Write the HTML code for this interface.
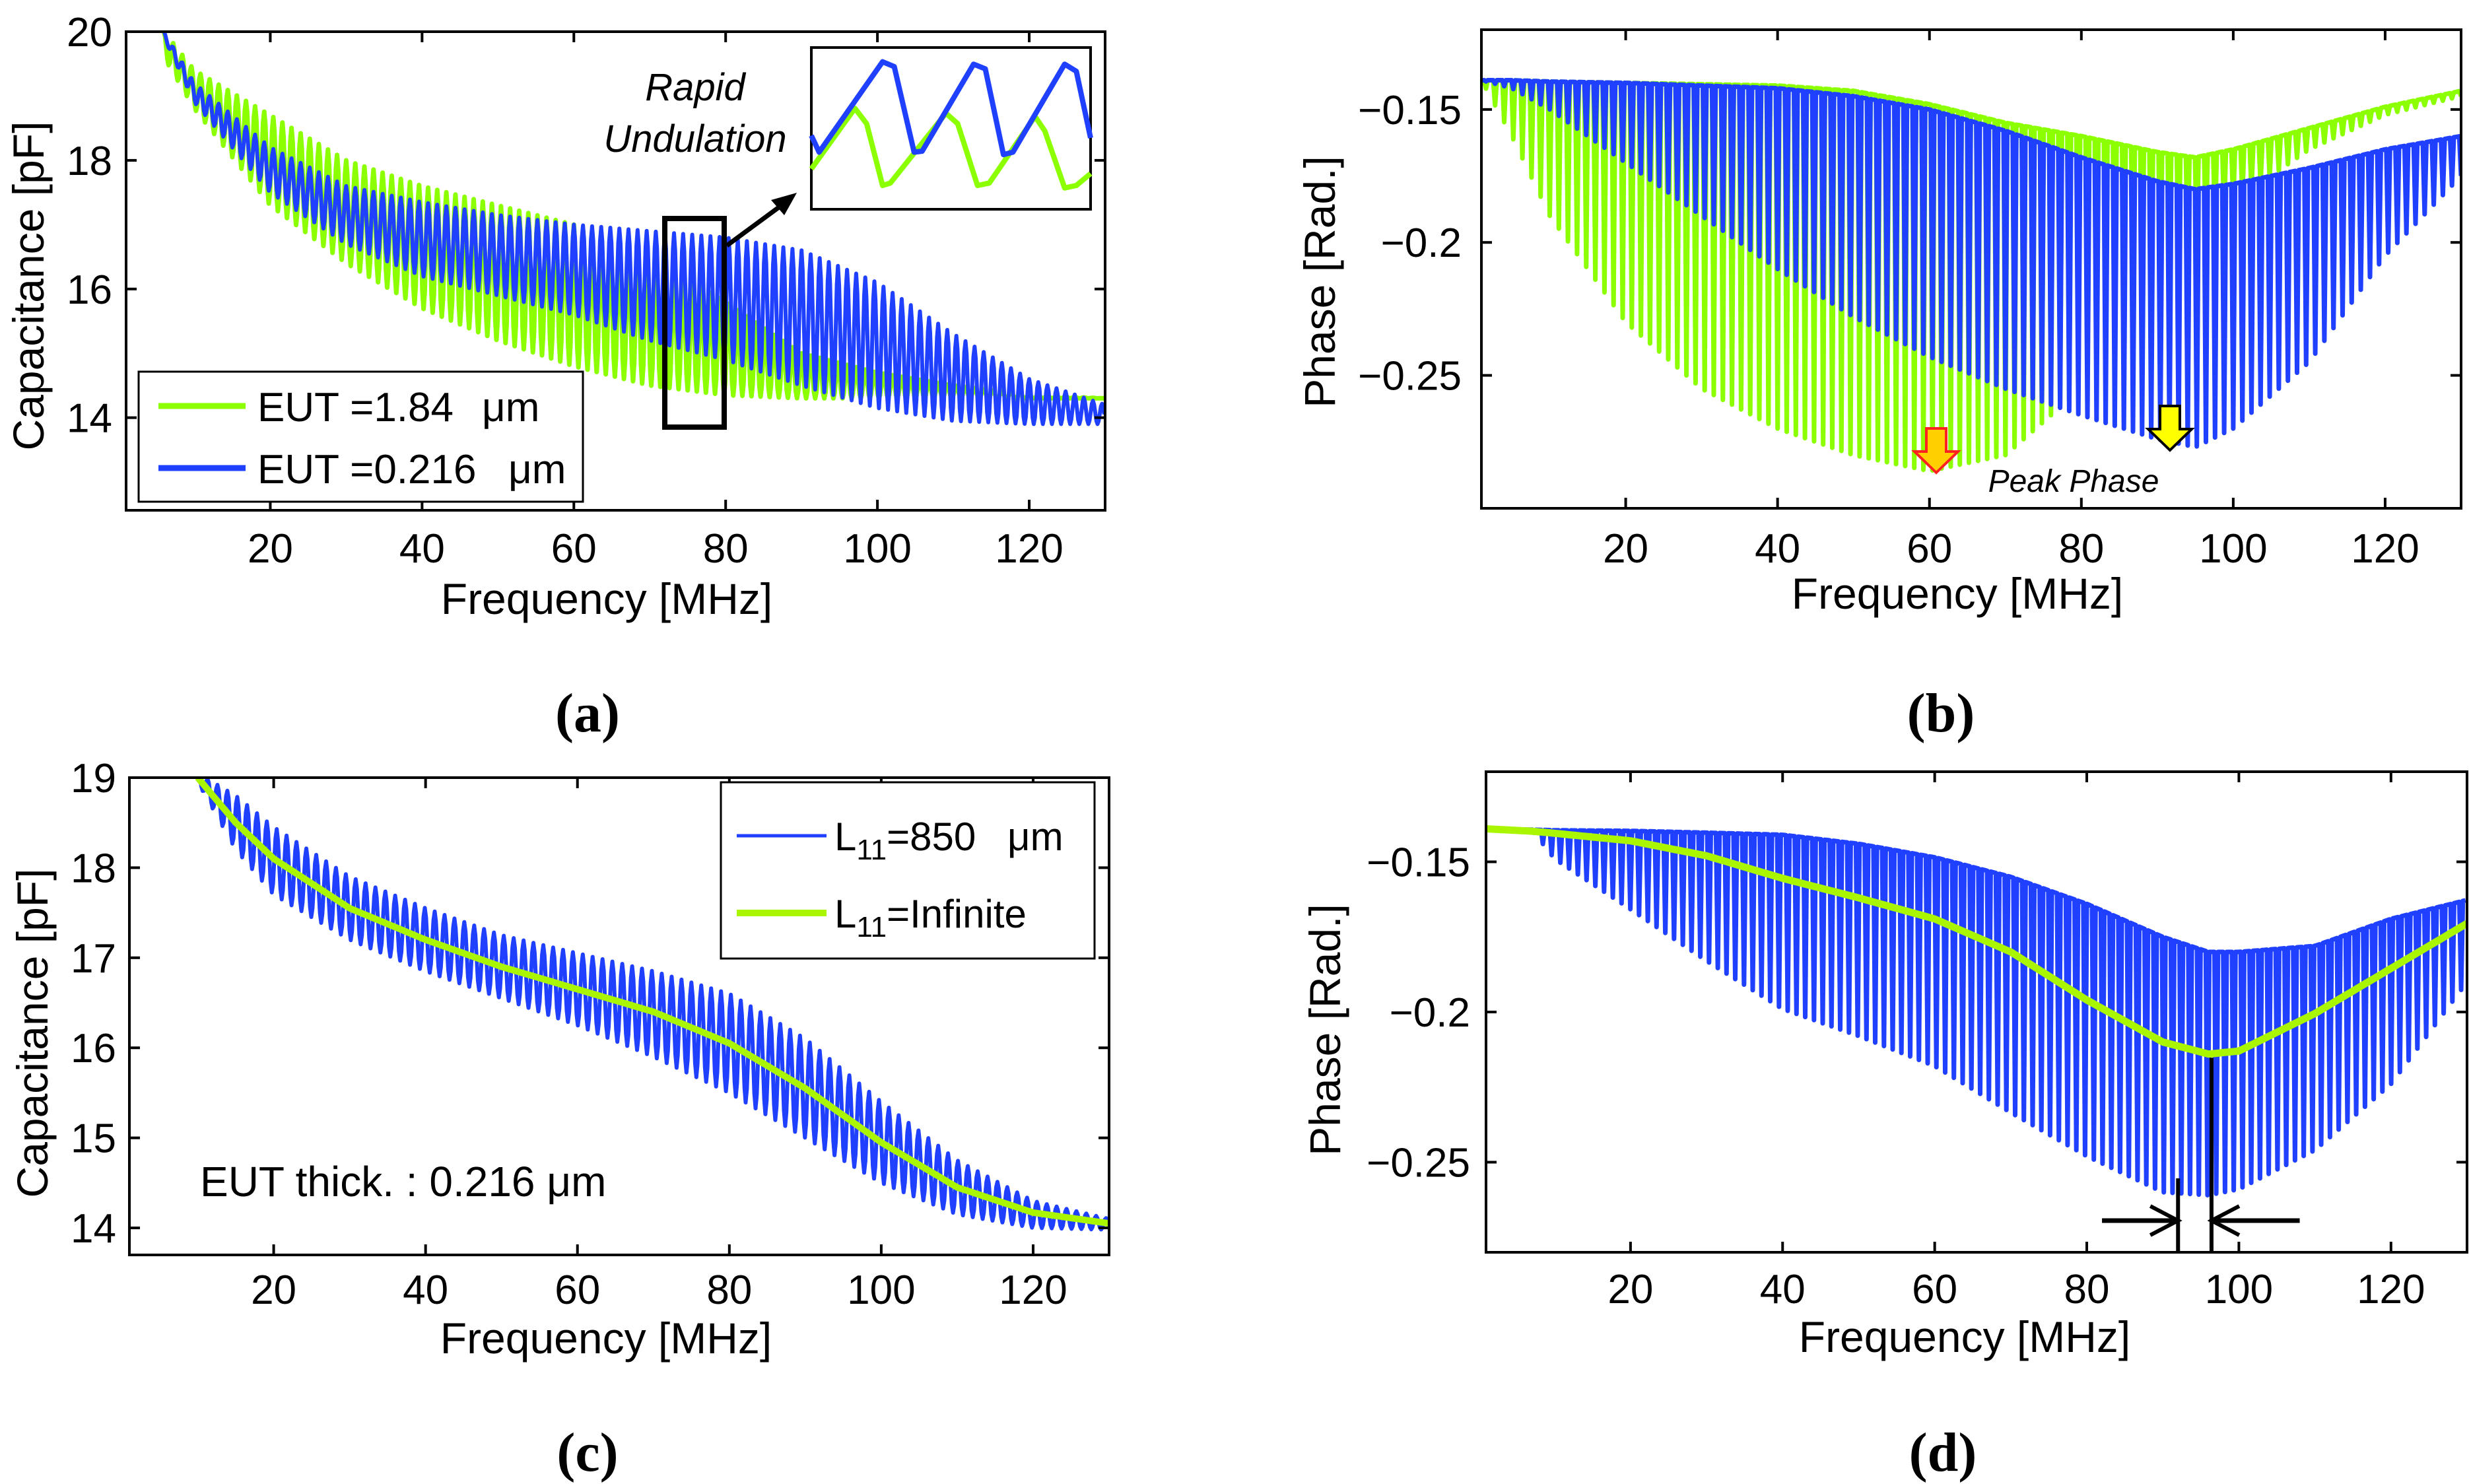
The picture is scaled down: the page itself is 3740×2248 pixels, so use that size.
<!DOCTYPE html>
<html><head><meta charset="utf-8">
<style>
html,body{margin:0;padding:0;background:#fff;}
svg{display:block;font-family:"Liberation Sans",sans-serif;}
</style></head>
<body>
<svg id="fig" xmlns="http://www.w3.org/2000/svg" width="3740" height="2248" viewBox="0 0 3740 2248">
<defs>
<clipPath id="clipA"><rect x="191" y="48" width="1483" height="725"/></clipPath>
<clipPath id="clipB"><rect x="2244" y="45" width="1484" height="725"/></clipPath>
<clipPath id="clipC"><rect x="196" y="1178" width="1484" height="723"/></clipPath>
<clipPath id="clipD"><rect x="2251" y="1169" width="1487" height="728"/></clipPath>
</defs>
<rect width="3740" height="2248" fill="#fff"/>
<g id="layer"></g>

<g>
  <rect x="1007" y="331" width="90" height="316" fill="none" stroke="#000" stroke-width="8"/>
  <line x1="1101" y1="372" x2="1192" y2="305" stroke="#000" stroke-width="7"/>
  <polygon points="1207,292 1168,303 1188,326" fill="#000"/>
  <text x="1053" y="152" font-size="58" font-style="italic" text-anchor="middle">Rapid</text>
  <text x="1053" y="230" font-size="58" font-style="italic" text-anchor="middle">Undulation</text>
  <rect x="1229" y="72" width="423" height="245" fill="#fff" stroke="#000" stroke-width="4"/>
  <g id="insetLayer"></g>
  <rect x="210" y="563" width="673" height="197" fill="#fff" stroke="#000" stroke-width="3"/>
  <line x1="240" y1="615" x2="372" y2="615" stroke="#8cff00" stroke-width="9"/>
  <text x="390" y="638" font-size="62">EUT =1.84</text>
  <text x="730" y="638" font-size="62">μm</text>
  <line x1="240" y1="709" x2="372" y2="709" stroke="#2040ff" stroke-width="9"/>
  <text x="390" y="732" font-size="62">EUT =0.216</text>
  <text x="770" y="732" font-size="62">μm</text>
</g>

<g>
  <polygon points="2918,649 2948,649 2948,684 2966,684 2933,716 2900,684 2918,684" fill="#ffd000" stroke="#ff2020" stroke-width="4"/>
  <polygon points="3272,615 3302,615 3302,650 3320,650 3287,682 3254,650 3272,650" fill="#ffff00" stroke="#000" stroke-width="4"/>
  <text x="3141" y="745" font-size="48" font-style="italic" text-anchor="middle">Peak Phase</text>
</g>

<g>
  <rect x="1092" y="1185" width="566" height="267" fill="#fff" stroke="#000" stroke-width="3"/>
  <line x1="1116" y1="1266" x2="1252" y2="1266" stroke="#2040ff" stroke-width="5"/>
  <text x="1264" y="1288" font-size="60">L<tspan dy="14" font-size="44">11</tspan><tspan dy="-14">=850</tspan></text>
  <text x="1526" y="1288" font-size="60">μm</text>
  <line x1="1116" y1="1383" x2="1252" y2="1383" stroke="#aaf500" stroke-width="10"/>
  <text x="1264" y="1405" font-size="60">L<tspan dy="14" font-size="44">11</tspan><tspan dy="-14">=Infinite</tspan></text>
  <text x="303" y="1812" font-size="64">EUT thick. : 0.216 μm</text>
</g>

<text x="919" y="930" font-size="66" text-anchor="middle">Frequency [MHz]</text>
<text transform="translate(66,433) rotate(-90)" font-size="66" text-anchor="middle">Capacitance [pF]</text>
<text x="2965" y="922" font-size="66" text-anchor="middle">Frequency [MHz]</text>
<text transform="translate(2022,427) rotate(-90)" font-size="66" text-anchor="middle">Phase [Rad.]</text>
<text x="918" y="2050" font-size="66" text-anchor="middle">Frequency [MHz]</text>
<text transform="translate(72,1565) rotate(-90)" font-size="66" text-anchor="middle">Capacitance [pF]</text>
<text x="2976" y="2048" font-size="66" text-anchor="middle">Frequency [MHz]</text>
<text transform="translate(2030,1560) rotate(-90)" font-size="66" text-anchor="middle">Phase [Rad.]</text>

<text x="890" y="1108" font-size="84" font-weight="bold" font-family="Liberation Serif, serif" text-anchor="middle">(a)</text>
<text x="2940" y="1108" font-size="84" font-weight="bold" font-family="Liberation Serif, serif" text-anchor="middle">(b)</text>
<text x="890" y="2228" font-size="84" font-weight="bold" font-family="Liberation Serif, serif" text-anchor="middle">(c)</text>
<text x="2943" y="2228" font-size="84" font-weight="bold" font-family="Liberation Serif, serif" text-anchor="middle">(d)</text>
</svg>

<script>
const xTicks = [20, 40, 60, 80, 100, 120];
const xTickLabels = ["20", "40", "60", "80", "100", "120"];

const aFreq = [6, 10, 20, 30, 40, 50, 60, 70, 80, 90, 100, 110, 120, 130];
const aGreenUpper = [20, 19.4, 18.7, 18.0, 17.6, 17.3, 17.0, 16.5, 15.8, 15.0, 14.7, 14.5, 14.35, 14.3];
const aGreenLower = [19.6, 18.8, 17.3, 16.4, 15.7, 15.2, 14.8, 14.5, 14.35, 14.3, 14.3, 14.3, 14.3, 14.3];
const aBlueUpper = [20, 19.2, 18.2, 17.6, 17.35, 17.15, 17.0, 16.9, 16.8, 16.6, 16.1, 15.3, 14.6, 14.2];
const aBlueLower = [19.9, 18.9, 17.5, 16.7, 16.2, 15.9, 15.6, 15.2, 14.9, 14.5, 14.15, 13.95, 13.9, 13.9];
const aPeriod = 1.2;
const aYTicks = [14, 16, 18, 20];
const aYTickLabels = ["14", "16", "18", "20"];
const insetBlueT = [0, .028, .255, .297, .368, .397, .581, .623, .688, .722, .907, .949, 1];
const insetBlueV = [.456, .353, .912, .882, .353, .359, .897, .868, .338, .353, .897, .853, .441];
const insetGreenT = [0, .156, .198, .255, .283, .482, .524, .595, .637, .801, .836, .907, .949, 1];
const insetGreenV = [.25, .624, .529, .147, .162, .594, .529, .147, .162, .574, .485, .132, .147, .221];

const bFreq = [1, 5, 10, 20, 30, 40, 50, 60, 70, 80, 90, 95, 100, 110, 120, 130];
const bGreenUpper = [-0.139, -0.139, -0.1395, -0.14, -0.1405, -0.141, -0.143, -0.148, -0.155, -0.16, -0.166, -0.168, -0.165, -0.157, -0.149, -0.143];
const bGreenLower = [-0.139, -0.16, -0.19, -0.23, -0.255, -0.27, -0.28, -0.286, -0.28, -0.255, -0.215, -0.2, -0.185, -0.165, -0.152, -0.145];
const bBlueUpper = [-0.139, -0.139, -0.1395, -0.14, -0.141, -0.142, -0.145, -0.15, -0.158, -0.168, -0.177, -0.18, -0.178, -0.172, -0.165, -0.16];
const bBlueLower = [-0.139, -0.142, -0.15, -0.17, -0.19, -0.21, -0.228, -0.243, -0.255, -0.265, -0.274, -0.277, -0.27, -0.245, -0.205, -0.175];
const bPeriod = 1.2;
const bYTicks = [-0.25, -0.2, -0.15];
const bYTickLabels = ["\u22120.25", "\u22120.2", "\u22120.15"];

const cFreq = [10, 15, 20, 30, 40, 50, 60, 70, 80, 90, 100, 110, 120, 130];
const cGreen = [19.0, 18.5, 18.1, 17.55, 17.2, 16.9, 16.65, 16.4, 16.05, 15.55, 14.95, 14.45, 14.17, 14.05];
const cBlueUpper = [19.05, 18.8, 18.45, 17.9, 17.55, 17.25, 17.05, 16.85, 16.6, 16.1, 15.4, 14.75, 14.3, 14.1];
const cBlueLower = [18.95, 18.2, 17.7, 17.2, 16.85, 16.55, 16.25, 15.9, 15.5, 15.0, 14.5, 14.15, 14.0, 13.98];
const cPeriod = 1.3;
const cYTicks = [14, 15, 16, 17, 18, 19];
const cYTickLabels = ["14", "15", "16", "17", "18", "19"];

const dFreq = [1, 7, 10, 20, 30, 40, 50, 60, 70, 80, 90, 96, 100, 110, 120, 130];
const dGreen = [-0.139, -0.1398, -0.1405, -0.143, -0.148, -0.1555, -0.162, -0.169, -0.18, -0.196, -0.21, -0.214, -0.213, -0.2005, -0.1855, -0.1705];
const dBlueUpper = [-0.139, -0.1393, -0.1395, -0.1397, -0.1403, -0.141, -0.144, -0.1485, -0.155, -0.164, -0.175, -0.18, -0.18, -0.178, -0.169, -0.1627];
const dBlueLower = [-0.139, -0.1393, -0.149, -0.1658, -0.183, -0.199, -0.208, -0.218, -0.2335, -0.248, -0.26, -0.261, -0.259, -0.246, -0.224, -0.19];
const dPeriod = 1.15;
const dYTicks = [-0.25, -0.2, -0.15];
const dYTickLabels = ["\u22120.25", "\u22120.2", "\u22120.15"];
const dMarkerFreqs = [92, 96.4];
const dArrowFreqs = [82, 108];

const NS = "http://www.w3.org/2000/svg";
const layer = document.getElementById("layer");

function mk(tag, attrs, parent) {
  const e = document.createElementNS(NS, tag);
  for (const k in attrs) e.setAttribute(k, attrs[k]);
  (parent || layer).appendChild(e);
  return e;
}
function interp(xs, ys, x) {
  if (x <= xs[0]) return ys[0];
  for (let i = 1; i < xs.length; i++) {
    if (x <= xs[i]) { const t = (x - xs[i-1]) / (xs[i] - xs[i-1]); return ys[i-1] + t * (ys[i] - ys[i-1]); }
  }
  return ys[ys.length - 1];
}
function makeAxes(x0, x1, y0, y1, ymin, ymax) {
  return {
    sx: f => x0 + (f - 1) / (130 - 1) * (x1 - x0),
    sy: v => y1 - (v - ymin) / (ymax - ymin) * (y1 - y0),
    x0, x1, y0, y1
  };
}
const axA = makeAxes(191, 1674, 48, 773, 12.56, 20);
const axB = makeAxes(2244, 3728, 45, 770, -0.30, -0.12);
const axC = makeAxes(196, 1680, 1178, 1901, 13.7, 19);
const axD = makeAxes(2251, 3737, 1169, 1897, -0.28, -0.12);

function smoothWave(ax, fr, up, lo, period) {
  const pts = [];
  const f0 = fr[0], f1 = fr[fr.length - 1];
  for (let f = f0; f <= f1 + 1e-9; f += period / 8) {
    const u = interp(fr, up, f), l = interp(fr, lo, f);
    const ph = (f - f0) / period;
    const v = l + (u - l) * (0.5 + 0.5 * Math.cos(2 * Math.PI * ph));
    pts.push(ax.sx(f).toFixed(1) + "," + ax.sy(v).toFixed(1));
  }
  return pts.join(" ");
}
function spikeWave(ax, fr, up, lo, period) {
  const pts = [];
  const f0 = fr[0], f1 = fr[fr.length - 1];
  const phases = [0, 0.3, 0.5, 0.7];
  for (let k = 0; f0 + k * period <= f1; k++) {
    for (const p of phases) {
      const f = f0 + (k + p) * period;
      if (f > f1) break;
      const u = interp(fr, up, f), l = interp(fr, lo, f);
      const v = (p === 0.5) ? l : u;
      pts.push(ax.sx(f).toFixed(1) + "," + ax.sy(v).toFixed(1));
    }
  }
  return pts.join(" ");
}
function smoothLine(ax, fr, vals) {
  const pts = [];
  for (let f = fr[0]; f <= fr[fr.length - 1] + 1e-9; f += 0.5) {
    pts.push(ax.sx(f).toFixed(1) + "," + ax.sy(interp(fr, vals, f)).toFixed(1));
  }
  return pts.join(" ");
}
function drawFrame(ax, yTicks, yLabels, prefix, yLabelRight, xLabelBase) {
  const g = mk("g", {});
  
  
  xTicks.forEach((t, i) => {
    const x = ax.sx(t);
    const tb = mk("line", {x1: x, x2: x, y1: ax.y1, y2: ax.y1 - 16, stroke: "#000", "stroke-width": 4}, g);
    
    
    const tt = mk("line", {x1: x, x2: x, y1: ax.y0, y2: ax.y0 + 16, stroke: "#000", "stroke-width": 4}, g);
    
    
    const lb = mk("text", {x: x, y: xLabelBase, "font-size": 62, "text-anchor": "middle"}, g);
    lb.textContent = xTickLabels[i];
    
    
  });
  yTicks.forEach((t, i) => {
    const y = ax.sy(t);
    const tl = mk("line", {x1: ax.x0, x2: ax.x0 + 16, y1: y, y2: y, stroke: "#000", "stroke-width": 4}, g);
    
    
    const tr = mk("line", {x1: ax.x1, x2: ax.x1 - 16, y1: y, y2: y, stroke: "#000", "stroke-width": 4}, g);
    
    
    const lb = mk("text", {x: yLabelRight, y: y + 22, "font-size": 62, "text-anchor": "end"}, g);
    lb.textContent = yLabels[i];
    
    
  });
  const box = mk("rect", {x: ax.x0, y: ax.y0, width: ax.x1 - ax.x0, height: ax.y1 - ax.y0, fill: "none", stroke: "#000", "stroke-width": 4}, g);
  
  
}
function series(ax, clip, pts, color, width, name) {
  const p = mk("polyline", {points: pts, fill: "none", stroke: color, "stroke-width": width, "stroke-linejoin": "round", "clip-path": "url(#" + clip + ")"});
  
  
  return p;
}

series(axA, "clipA", smoothWave(axA, aFreq, aGreenUpper, aGreenLower, aPeriod), "#8cff00", 7, "a-series-eut-1-84");
series(axA, "clipA", smoothWave(axA, aFreq, aBlueUpper, aBlueLower, aPeriod), "#2040ff", 6, "a-series-eut-0-216");
drawFrame(axA, aYTicks, aYTickLabels, "a", 170, 852);

series(axB, "clipB", spikeWave(axB, bFreq, bGreenUpper, bGreenLower, bPeriod), "#8cff00", 7, "b-series-eut-1-84");
series(axB, "clipB", spikeWave(axB, bFreq, bBlueUpper, bBlueLower, bPeriod), "#2040ff", 7, "b-series-eut-0-216");
drawFrame(axB, bYTicks, bYTickLabels, "b", 2214, 852);

series(axC, "clipC", smoothWave(axC, cFreq, cBlueUpper, cBlueLower, cPeriod), "#2040ff", 6, "c-series-l11-850");
series(axC, "clipC", smoothLine(axC, cFreq, cGreen), "#aaf500", 10, "c-series-l11-infinite");
drawFrame(axC, cYTicks, cYTickLabels, "c", 176, 1975);

series(axD, "clipD", spikeWave(axD, dFreq, dBlueUpper, dBlueLower, dPeriod), "#2040ff", 7, "d-series-l11-850");
series(axD, "clipD", smoothLine(axD, dFreq, dGreen), "#aaf500", 11, "d-series-l11-infinite");
drawFrame(axD, dYTicks, dYTickLabels, "d", 2227, 1974);

const mTop = [1785, axD.sy(interp(dFreq, dGreen, dMarkerFreqs[1])) + 6];
dMarkerFreqs.forEach((f, i) => {
  const l = mk("line", {x1: axD.sx(f), x2: axD.sx(f), y1: mTop[i], y2: axD.y1, stroke: "#000", "stroke-width": 6});
  
  
});
const arrowY = 1849;
dArrowFreqs.forEach((f, i) => {
  const tip = axD.sx(dMarkerFreqs[i]);
  const dir = i === 0 ? 1 : -1;
  const l = mk("line", {x1: axD.sx(f), x2: tip, y1: arrowY, y2: arrowY, stroke: "#000", "stroke-width": 7});
  
  
  const h = mk("polyline", {points: (tip - dir*42) + "," + (arrowY - 22) + " " + tip + "," + arrowY + " " + (tip - dir*42) + "," + (arrowY + 22), fill: "none", stroke: "#000", "stroke-width": 6});
  
  
});

const inset = document.getElementById("insetLayer");
const ix0 = 1229, iw = 423, iy0 = 72, ih = 245;
function insetPts(ts, vs) { return ts.map((t, i) => (ix0 + t * iw).toFixed(1) + "," + (iy0 + ih - vs[i] * ih).toFixed(1)).join(" "); }
const ig = mk("polyline", {points: insetPts(insetGreenT, insetGreenV), fill: "none", stroke: "#8cff00", "stroke-width": 8, "stroke-linejoin": "round"}, inset);


const ib = mk("polyline", {points: insetPts(insetBlueT, insetBlueV), fill: "none", stroke: "#2040ff", "stroke-width": 8, "stroke-linejoin": "round"}, inset);


</script>
</body></html>
